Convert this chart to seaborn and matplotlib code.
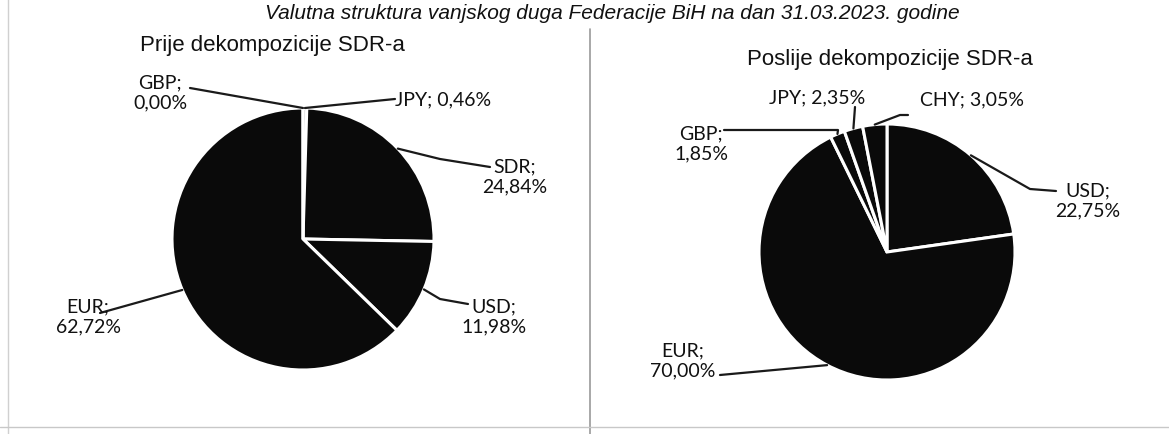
import numpy as np
import matplotlib
matplotlib.use("Agg")
import matplotlib.pyplot as plt
import seaborn as sns

# data
left_title = "Prije dekompozicije SDR-a"
left_labels = ["JPY", "SDR", "USD", "EUR", "GBP"]
left_values = [0.46, 24.84, 11.98, 62.72, 0.00]

right_title = "Poslije dekompozicije SDR-a"
right_labels = ["USD", "EUR", "GBP", "JPY", "CHY"]
right_values = [22.75, 70.00, 1.85, 2.35, 3.05]

top_title = "Valutna struktura vanjskog duga Federacije BiH na dan 31.03.2023. godine"

W, H = 1169, 435
sns.set_theme(style="white")
plt.rcParams['font.family'] = ['Lato', 'DejaVu Sans']
title_font = ['Liberation Sans', 'DejaVu Sans']

fig = plt.figure(figsize=(W / 100, H / 100), dpi=100)
ax = fig.add_axes([0, 0, 1, 1])


def fmt(v):
    return f"{v:.2f}".replace(".", ",") + "%"


def draw_pie(values, center, radius):
    wedges, _ = ax.pie(values, startangle=-90, counterclock=True,
                       center=center, radius=radius, colors=["#0a0a0a"] * len(values),
                       wedgeprops=dict(edgecolor="white", linewidth=2.2), frame=True)
    anchors = []
    for w in wedges:
        th = np.deg2rad((w.theta1 + w.theta2) / 2)
        anchors.append((center[0] + radius * np.cos(th), center[1] + radius * np.sin(th)))
    return anchors


# label layout: (text x, text y, ha, two lines?, leader points after anchor)
left_layout = {
    "JPY": (395, 100, "left", False, [(395, 100)]),
    "SDR": (515, 177, "center", True, [(440, 160), (490, 168)]),
    "USD": (494, 317, "center", True, [(440, 300), (468, 305)]),
    "EUR": (88, 317, "center", True, [(100, 314)]),
    "GBP": (160, 93, "center", True, [(190, 89)]),
}
right_layout = {
    "USD": (1088, 201, "center", True, [(1030, 190), (1056, 192)]),
    "EUR": (683, 361, "center", True, [(720, 376)]),
    "GBP": (701, 144, "center", True, [(838, 131), (724, 131)]),
    "JPY": (817, 98, "center", False, [(855, 108)]),
    "CHY": (972, 100, "center", False, [(900, 116), (908, 116)]),
}


def draw_labels(labels, values, anchors, layout):
    for lab, v, a in zip(labels, values, anchors):
        tx, ty, ha, two, pts = layout[lab]
        xs = [a[0]] + [p[0] for p in pts]
        ys = [a[1]] + [p[1] for p in pts]
        ax.plot(xs, ys, color="#1a1a1a", lw=1.6, zorder=3)
        txt = f"{lab};\n{fmt(v)}" if two else f"{lab}; {fmt(v)}"
        ax.text(tx, ty, txt, ha=ha, va="center", fontsize=14, color="#111111",
                linespacing=1.25, zorder=4)


la = draw_pie(left_values, (303, 240), 131)
ra = draw_pie(right_values, (887, 253), 128)
draw_labels(left_labels, left_values, la, left_layout)
draw_labels(right_labels, right_values, ra, right_layout)

ax.text(272, 45, left_title, ha="center", va="center", fontsize=16, family=title_font, color="#111111")
ax.text(890, 60, right_title, ha="center", va="center", fontsize=16, family=title_font, color="#111111")
ax.text(960, 19, top_title, ha="right", va="baseline", fontsize=15, style="italic",
        family=title_font, color="#111111")

# scan frame lines
ax.plot([590, 590], [30, H], color="#9a9a9a", lw=1.2)
ax.plot([8, 8], [0, H], color="#d0d0d0", lw=1)
ax.plot([0, W], [428, 428], color="#c8c8c8", lw=1)

ax.set_xlim(0, W)
ax.set_ylim(H, 0)
ax.set_aspect("equal")
ax.axis("off")

fig.savefig("out.png", dpi=100, facecolor="white")
